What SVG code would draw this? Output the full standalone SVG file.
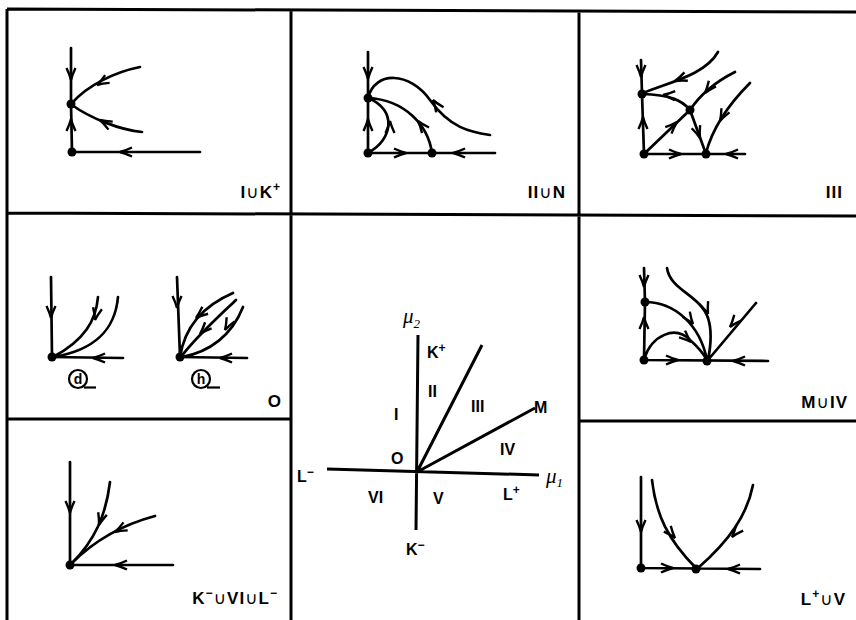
<svg xmlns="http://www.w3.org/2000/svg" xmlns:xlink="http://www.w3.org/1999/xlink" width="856" height="620" viewBox="0 0 856 620">
<style>
.fr{fill:none;stroke:#000;stroke-width:3}
.ln{fill:none;stroke:#000;stroke-width:2.7;stroke-linecap:round}
.ax{fill:none;stroke:#000;stroke-width:3}
.ah{fill:none;stroke:#000;stroke-width:2.4;stroke-linejoin:miter}
.dt{fill:#000}
.lb{font-family:"Liberation Sans",Arial,sans-serif;font-weight:bold;font-size:17px;letter-spacing:1px;fill:#000}
.cl{font-family:"Liberation Sans",Arial,sans-serif;font-weight:bold;font-size:16px;fill:#000}
.cup{font-family:"DejaVu Sans",sans-serif;font-weight:normal}
.mu{font-family:"Liberation Serif","Times New Roman",serif;font-style:italic;font-size:21px;fill:#000}
.cc{fill:none;stroke:#000;stroke-width:2.2}
.ct{font-family:"Liberation Sans",Arial,sans-serif;font-weight:bold;font-size:14px;fill:#000}
</style>
<defs>
<path id="a" class="ah" d="M-12,-4.5 Q-5,-1.2 0,0 Q-5,1.2 -12,4.5"/>
</defs>
<rect width="856" height="620" fill="#fff"/>
<g id="frame">
<path class="fr" d="M7,9 L856,12 M7,9 L7,620 M291,9 L291,620 M579,11 L579,620 M7,213 L856,216 M7,419 L291,419 M579,421 L856,421"/>
</g>
<g id="panel-IK">
<path class="ln" d="M71,48 L71,104 L72,152 L200,152 M140,67 C115,72 88,85 72,103 M142,132 C120,130 90,118 72,105"/>
<circle class="dt" cx="71" cy="104" r="4.5"/><circle class="dt" cx="72" cy="152" r="4.5"/>
<use xlink:href="#a" transform="translate(71,80) rotate(90)"/>
<use xlink:href="#a" transform="translate(71,119) rotate(-90)"/>
<use xlink:href="#a" transform="translate(120,152) rotate(180)"/>
<use xlink:href="#a" transform="translate(97,85) rotate(150)"/>
<use xlink:href="#a" transform="translate(100,120) rotate(208)"/>
<text class="lb" x="281" y="198" text-anchor="end">I<tspan class="cup">∪</tspan>K<tspan dy="-7" font-size="12">+</tspan></text>
</g>
<g id="panel-IIN">
<path class="ln" d="M368,52 L368,153 L495,153 M368,98 C375,70 410,72 430,100 S470,132 490,135 M432,153 C428,125 405,100 368,98 M369,152 C392,140 398,110 368,98"/>
<circle class="dt" cx="368" cy="98" r="4.5"/><circle class="dt" cx="368" cy="153" r="4.5"/><circle class="dt" cx="432" cy="153" r="4.5"/>
<use xlink:href="#a" transform="translate(368,79) rotate(90)"/>
<use xlink:href="#a" transform="translate(368,119) rotate(-90)"/>
<use xlink:href="#a" transform="translate(406,153) rotate(0)"/>
<use xlink:href="#a" transform="translate(453,153) rotate(180)"/>
<use xlink:href="#a" transform="translate(433,100) rotate(-125)"/>
<use xlink:href="#a" transform="translate(418,121) rotate(-129)"/>
<use xlink:href="#a" transform="translate(390,121) rotate(-90)"/>
<text class="lb" x="566" y="198" text-anchor="end">II<tspan class="cup">∪</tspan>N</text>
</g>
<g id="panel-III">
<path class="ln" d="M641,60 L642,94 L644,154 L745,154 M690,110 C682,100 670,95 642,94 M644,154 L690,110 L706,154 M718,52 C705,75 670,82 643,93 M735,72 C715,82 700,95 690,110 M750,83 C728,105 712,130 706,153"/>
<circle class="dt" cx="642" cy="94" r="4.5"/><circle class="dt" cx="644" cy="154" r="4.5"/><circle class="dt" cx="706" cy="154" r="4.5"/><circle class="dt" cx="690" cy="110" r="4.5"/>
<use xlink:href="#a" transform="translate(641,77) rotate(90)"/>
<use xlink:href="#a" transform="translate(643,117) rotate(-90)"/>
<use xlink:href="#a" transform="translate(681,154) rotate(0)"/>
<use xlink:href="#a" transform="translate(726,154) rotate(180)"/>
<use xlink:href="#a" transform="translate(663,95) rotate(183)"/>
<use xlink:href="#a" transform="translate(677,122) rotate(-44)"/>
<use xlink:href="#a" transform="translate(700,138) rotate(70)"/>
<use xlink:href="#a" transform="translate(675,81) rotate(158)"/>
<use xlink:href="#a" transform="translate(705,93) rotate(128)"/>
<use xlink:href="#a" transform="translate(720,121) rotate(117)"/>
<text class="lb" x="843" y="198" text-anchor="end">III</text>
</g>
<g id="panel-O">
<path class="ln" d="M51,277 L52,357 L123,358 M98,297 C96,320 85,340 53,357 M118,297 C115,330 95,350 54,357"/>
<circle class="dt" cx="52" cy="357" r="4.5"/>
<use xlink:href="#a" transform="translate(51,318) rotate(90)"/>
<use xlink:href="#a" transform="translate(93,358) rotate(180)"/>
<use xlink:href="#a" transform="translate(95,320) rotate(102)"/>
<circle class="cc" cx="78" cy="379" r="9"/>
<path class="cc" d="M84,387.5 L96,387.5"/>
<text class="ct" x="78" y="384" text-anchor="middle">d</text>
<path class="ln" d="M177,277 L180,357 L247,358 M233,293 C205,305 185,325 180,357 M236,300 C215,320 195,338 181,357 M243,307 C232,335 210,352 182,357"/>
<circle class="dt" cx="180" cy="357" r="4.5"/>
<use xlink:href="#a" transform="translate(177,308) rotate(90)"/>
<use xlink:href="#a" transform="translate(220,358) rotate(180)"/>
<use xlink:href="#a" transform="translate(196,318) rotate(140)"/>
<use xlink:href="#a" transform="translate(200,334) rotate(134)"/>
<use xlink:href="#a" transform="translate(225,330) rotate(118)"/>
<circle class="cc" cx="201" cy="379" r="9"/>
<path class="cc" d="M207,387.5 L220,387.5"/>
<text class="ct" x="201" y="384" text-anchor="middle">h</text>
<text class="lb" x="282" y="407" text-anchor="end">O</text>
</g>
<g id="panel-MIV">
<path class="ln" d="M644,268 L645,302 L644,360 L768,361 M645,302 C675,302 700,325 707,360 M644,359 C652,335 675,325 690,340 C698,347 703,353 707,360 M667,268 C670,290 700,295 708,318 C713,333 710,350 708,360 M756,303 L708,360"/>
<circle class="dt" cx="645" cy="302" r="4.5"/><circle class="dt" cx="644" cy="360" r="4.5"/><circle class="dt" cx="707" cy="361" r="4.5"/>
<use xlink:href="#a" transform="translate(644,287) rotate(90)"/>
<use xlink:href="#a" transform="translate(644,317) rotate(-90)"/>
<use xlink:href="#a" transform="translate(678,360) rotate(0)"/>
<use xlink:href="#a" transform="translate(733,361) rotate(180)"/>
<use xlink:href="#a" transform="translate(693,324) rotate(55)"/>
<use xlink:href="#a" transform="translate(691,342) rotate(42)"/>
<use xlink:href="#a" transform="translate(708,314) rotate(70)"/>
<use xlink:href="#a" transform="translate(730,327) rotate(130)"/>
<text class="lb" x="848" y="408" text-anchor="end">M<tspan class="cup">∪</tspan>IV</text>
</g>
<g id="panel-KVIL">
<path class="ln" d="M70,462 L70,565 L173,565 M110,482 C106,515 95,540 72,563 M155,516 C125,524 95,540 72,563"/>
<circle class="dt" cx="70" cy="565" r="4.5"/>
<use xlink:href="#a" transform="translate(70,513) rotate(90)"/>
<use xlink:href="#a" transform="translate(115,565) rotate(180)"/>
<use xlink:href="#a" transform="translate(99,525) rotate(107)"/>
<use xlink:href="#a" transform="translate(115,532) rotate(152)"/>
<text class="lb" x="278" y="604" text-anchor="end">K<tspan dy="-7" font-size="12">−</tspan><tspan dy="7" class="cup">∪</tspan>VI<tspan class="cup">∪</tspan>L<tspan dy="-7" font-size="12">−</tspan></text>
</g>
<g id="panel-LV">
<path class="ln" d="M641,477 L641,568 L760,569 M652,480 C656,515 668,540 696,568 M753,485 C747,515 730,540 698,568"/>
<circle class="dt" cx="641" cy="568" r="4.5"/><circle class="dt" cx="696" cy="569" r="4.5"/>
<use xlink:href="#a" transform="translate(641,532) rotate(90)"/>
<use xlink:href="#a" transform="translate(673,568) rotate(0)"/>
<use xlink:href="#a" transform="translate(728,569) rotate(180)"/>
<use xlink:href="#a" transform="translate(675,538) rotate(50)"/>
<use xlink:href="#a" transform="translate(732,537) rotate(130)"/>
<text class="lb" x="846" y="605" text-anchor="end">L<tspan dy="-7" font-size="12">+</tspan><tspan dy="7" class="cup">∪</tspan>V</text>
</g>
<g id="panel-center">
<path class="ax" d="M418,335 L416,530 M327,469 L539,475 M417,472 L482,345 M417,472 L535,408"/>
<text class="mu" x="403" y="323">μ<tspan font-size="13" dy="5">2</tspan></text>
<text class="cl" x="427" y="358">K<tspan dy="-6" font-size="12">+</tspan></text>
<text class="cl" x="428" y="397">II</text>
<text class="cl" x="471" y="412">III</text>
<text class="cl" x="534" y="413">M</text>
<text class="cl" x="394" y="420">I</text>
<text class="cl" x="500" y="455">IV</text>
<text class="cl" x="391" y="464">O</text>
<text class="cl" x="297" y="482">L<tspan dy="-6" font-size="12">−</tspan></text>
<text class="mu" x="546" y="483">μ<tspan font-size="13" dy="4">1</tspan></text>
<text class="cl" x="503" y="500">L<tspan dy="-6" font-size="12">+</tspan></text>
<text class="cl" x="368" y="503">VI</text>
<text class="cl" x="433" y="504">V</text>
<text class="cl" x="406" y="555">K<tspan dy="-6" font-size="12">−</tspan></text>
</g>
</svg>
